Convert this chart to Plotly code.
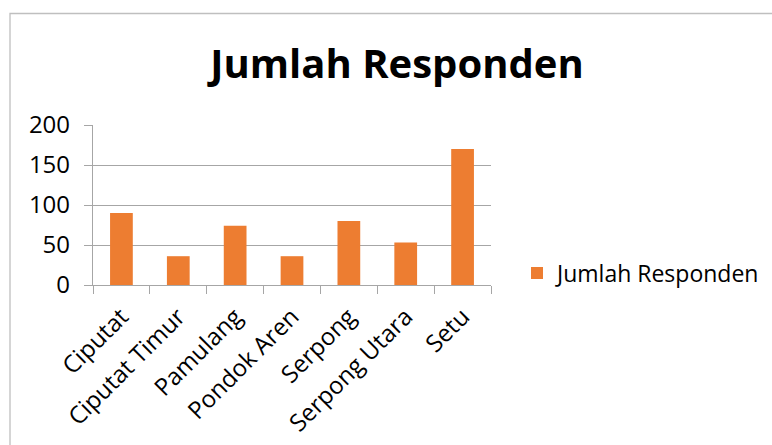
import plotly.graph_objects as go

# Respondent counts per kecamatan
categories = ["Ciputat", "Ciputat Timur", "Pamulang", "Pondok Aren",
              "Serpong", "Serpong Utara", "Setu"]
responden = [90, 36, 74, 36, 80, 53, 170]
series_name = "Jumlah Responden"
y_ticks = [0, 50, 100, 150, 200]

W, H = 772, 445
L, R, T, B = 93, 281, 125, 160
pw, ph = W - L - R, H - T - B

ORANGE = "#ED7D31"
GRID = "#A6A6A6"
FONT = "Open Sans"

fig = go.Figure(go.Bar(
    x=categories, y=responden, name=series_name,
    marker=dict(color=ORANGE, line=dict(width=0)),
    showlegend=True,
))

# pixel -> paper coordinate helpers
def px_x(p):
    return (p - L) / pw

def px_y(p):
    return (H - B - p) / ph

# outer chart frame (right and bottom edges run off the canvas)
fig.add_shape(type="rect", xref="paper", yref="paper",
              x0=px_x(10), x1=px_x(W + 20), y0=px_y(H + 20), y1=px_y(13.5),
              line=dict(color="#BFBFBF", width=1.3), fillcolor="rgba(0,0,0,0)",
              layer="below")

fig.update_layout(
    width=W, height=H,
    margin=dict(l=L, r=R, t=T, b=B, autoexpand=False),
    paper_bgcolor="white", plot_bgcolor="white",
    font=dict(family=FONT, color="#000000", size=23),
    title=dict(text="<b>Jumlah Responden</b>", x=397 / W, xanchor="center",
               y=1 - 64 / H, yanchor="middle",
               font=dict(family=FONT, size=40, color="#000000")),
    bargap=0.6,
    legend=dict(x=px_x(517), xanchor="left", y=px_y(273), yanchor="middle",
                font=dict(family=FONT, size=23), itemwidth=30,
                bgcolor="rgba(0,0,0,0)"),
    xaxis=dict(type="category", tickangle=-45, showgrid=False,
               showline=True, linecolor=GRID, linewidth=1.3,
               ticks="outside", tickson="boundaries", ticklen=8,
               tickcolor=GRID, tickwidth=1.3, ticklabelstandoff=7,
               tickfont=dict(family=FONT, size=24)),
    yaxis=dict(range=[0, 200], tickvals=y_ticks, showgrid=True,
               gridcolor=GRID, gridwidth=1.3, zeroline=False,
               showline=True, linecolor=GRID, linewidth=1.3,
               ticks="outside", ticklen=8, tickcolor=GRID, tickwidth=1.3,
               ticklabelstandoff=9,
               tickfont=dict(family=FONT, size=24)),
)

fig.write_html("out.html")
